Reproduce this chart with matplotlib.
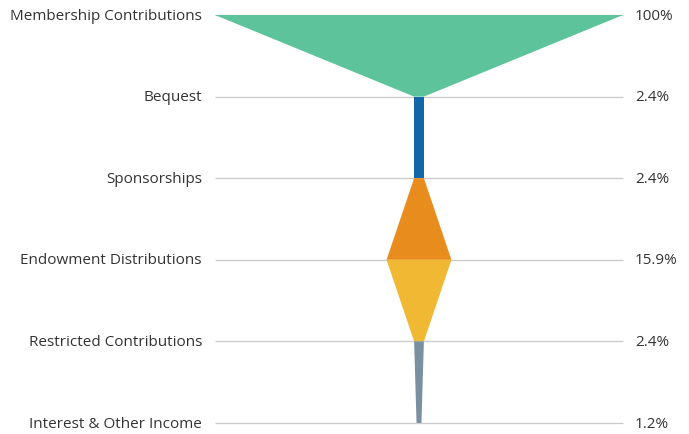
import matplotlib
matplotlib.use("Agg")
import matplotlib.pyplot as plt
from matplotlib.patches import Polygon
import matplotlib.transforms as mtransforms

categories = ["Membership Contributions", "Bequest", "Sponsorships",
              "Endowment Distributions", "Restricted Contributions",
              "Interest & Other Income"]
values = [100, 2.4, 2.4, 15.9, 2.4, 1.2]
value_labels = ["100%", "2.4%", "2.4%", "15.9%", "2.4%", "1.2%"]
colors = ["#5DC39A", "#1167A8", "#E88C1E", "#F0B833", "#7A8FA0"]

plt.rcParams['font.family'] = ['Open Sans', 'DejaVu Sans']

W, H = 689, 435
fig = plt.figure(figsize=(W / 100, H / 100), dpi=100)
ax = fig.add_axes([215 / W, (H - 424) / H, 408 / W, (424 - 16) / H])
ax.set_xlim(-50, 50)
ax.set_ylim(len(values) - 1, 0)
ax.axis("off")

n = len(values)
ax.hlines(range(n), -50, 50, color="#cccccc", lw=1, zorder=0, clip_on=False)

for i in range(n - 1):
    a, b = values[i] / 2, values[i + 1] / 2
    poly = Polygon([(-a, i), (a, i), (b, i + 1), (-b, i + 1)],
                   closed=True, facecolor=colors[i], edgecolor="none", zorder=2)
    ax.add_patch(poly)

trans = mtransforms.blended_transform_factory(ax.transAxes, ax.transData)
for i in range(n):
    ax.annotate(categories[i], xy=(0, i), xycoords=trans, xytext=(-9.4, 0),
                textcoords="offset points", ha="right", va="center",
                fontsize=11, color="#333333", annotation_clip=False)
    ax.annotate(value_labels[i], xy=(1, i), xycoords=trans, xytext=(8.6, 0),
                textcoords="offset points", ha="left", va="center",
                fontsize=11, color="#333333", annotation_clip=False)

fig.savefig("out.png", dpi=100)
